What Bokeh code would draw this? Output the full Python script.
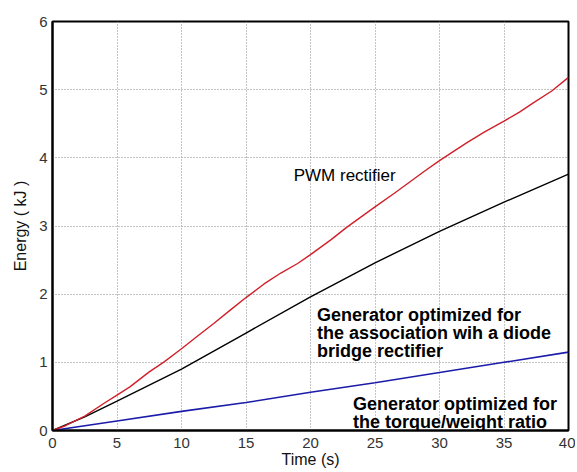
from bokeh.plotting import figure
from bokeh.models import Label, Range1d, FixedTicker
from bokeh.embed import file_html
from bokeh.resources import INLINE

# Data (time in s, energy in kJ)
t_pwm = [0, 1, 2.5, 4, 5, 6, 7.5, 8.6, 10, 11.2, 12.5, 13.8, 15, 16.4, 17.7, 19,
         20, 21.6, 22.8, 25, 26.5, 27.8, 28.8, 30, 32.1, 33.5, 35, 36.2, 37.3, 38.7, 40]
e_pwm = [0, 0.07, 0.21, 0.4, 0.52, 0.64, 0.86, 1.0, 1.2, 1.38, 1.57, 1.77, 1.95, 2.15, 2.31, 2.45,
         2.58, 2.8, 2.98, 3.28, 3.48, 3.66, 3.8, 3.96, 4.22, 4.38, 4.54, 4.67, 4.81, 4.98, 5.18]

t_diode = [0, 2.5, 5, 10, 15, 20, 25, 30, 35, 40]
e_diode = [0, 0.2, 0.43, 0.9, 1.43, 1.96, 2.46, 2.92, 3.35, 3.76]

t_torque = [0, 5, 10, 15, 20, 25, 30, 35, 40]
e_torque = [0, 0.14, 0.28, 0.41, 0.56, 0.7, 0.85, 1.0, 1.15]

x_ticks = [0, 5, 10, 15, 20, 25, 30, 35, 40]
y_ticks = [0, 1, 2, 3, 4, 5, 6]

label_pwm = "PWM rectifier"
label_diode = ["Generator optimized for", "the association wih a diode", "bridge rectifier"]
label_torque = ["Generator optimized for", "the torque/weight ratio"]

FONT = "Liberation Sans"

p = figure(width=575, height=472, output_backend="svg", toolbar_location=None,
           x_range=Range1d(0, 40), y_range=Range1d(0, 6),
           min_border_left=52, min_border_top=21, min_border_right=7, min_border_bottom=42)

p.background_fill_color = "white"
p.border_fill_color = "white"
p.outline_line_color = "black"
p.outline_line_width = 2

for ax in (p.xaxis[0], p.yaxis[0]):
    ax.axis_line_width = 2
    ax.axis_line_color = "black"
    ax.major_tick_line_color = None
    ax.minor_tick_line_color = None
    ax.major_tick_in = 0
    ax.major_tick_out = 0
    ax.major_label_text_font = FONT
    ax.major_label_text_font_size = "15px"
    ax.major_label_text_color = "#333333"
    ax.axis_label_text_font = FONT
    ax.axis_label_text_font_size = "16px"
    ax.axis_label_text_font_style = "normal"
    ax.axis_label_text_color = "#111111"

p.xaxis.ticker = FixedTicker(ticks=x_ticks)
p.yaxis.ticker = FixedTicker(ticks=y_ticks)
p.xaxis.axis_label = "Time (s)"
p.yaxis.axis_label = "Energy ( kJ )"
p.xaxis.major_label_standoff = 7
p.xaxis.axis_label_standoff = 0
p.yaxis.major_label_standoff = 5
p.yaxis.axis_label_standoff = 7

p.xgrid.grid_line_color = "#8a8a8a"
p.ygrid.grid_line_color = "#8a8a8a"
p.xgrid.grid_line_dash = "1 2"
p.ygrid.grid_line_dash = "1 2"
p.xgrid.grid_line_width = 1
p.ygrid.grid_line_width = 1

p.line(t_torque, e_torque, line_color="#1c1caa", line_width=1.6)
p.line(t_diode, e_diode, line_color="black", line_width=1.4)
p.line(t_pwm, e_pwm, line_color="#d0202a", line_width=1.4)

p.add_layout(Label(x=18.7, y=3.745, text=label_pwm, text_font=FONT, text_font_size="17px",
                   text_baseline="alphabetic", text_color="black"))

for i, s in enumerate(label_diode):
    p.add_layout(Label(x=20.5, y=1.70 - i * 0.2647, text=s, text_font=FONT, text_font_size="18px",
                       text_font_style="bold", text_baseline="alphabetic", text_color="black"))

for i, s in enumerate(label_torque):
    p.add_layout(Label(x=23.3, y=0.387 - i * 0.2647, text=s, text_font=FONT, text_font_size="18px",
                       text_font_style="bold", text_baseline="alphabetic", text_color="black"))

open("out.html", "w").write(file_html(p, INLINE))
